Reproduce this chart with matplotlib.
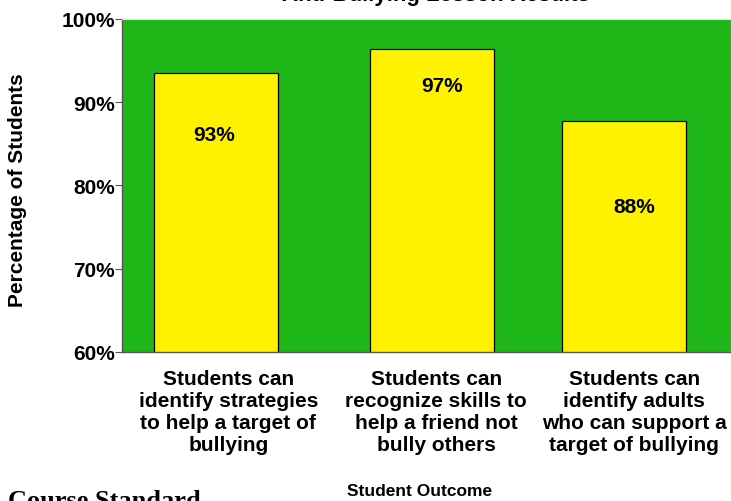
import matplotlib
matplotlib.use("Agg")
import matplotlib.pyplot as plt
import numpy as np

plt.rcParams["font.family"] = ["Liberation Sans", "DejaVu Sans"]
plt.rcParams["font.weight"] = "bold"

## Chart data
outcomes = [
    "Students can\nidentify strategies\nto help a target of\nbullying",
    "Students can\nrecognize skills to\nhelp a friend not\nbully others",
    "Students can\nidentify adults\nwho can support a\ntarget of bullying",
]
percent = [93.5, 96.4, 87.7]
percent_labels = ["93%", "97%", "88%"]
y_ticks = [60, 70, 80, 90, 100]
y_tick_labels = ["60%", "70%", "80%", "90%", "100%"]

## Layout (bar centres were nudged by hand in the original slide)
bar_x = np.array([0.0, 1.06, 2.0])
label_x = np.array([0.06, 1.08, 2.05])
value_text_x = np.array([-0.01, 1.11, 2.05])
value_text_drop = np.array([7.4, 4.4, 10.2])

green = "#1FB718"
yellow = "#FFF200"

fig = plt.figure(figsize=(7.31, 5.02), dpi=100)
ax = fig.add_axes([122 / 731, 149 / 502, 609 / 731, 333 / 502])
ax.set_facecolor(green)

ax.bar(bar_x, percent, width=0.608, bottom=0, color=yellow, edgecolor="black", linewidth=0.9, zorder=2)

for x, v, d, t in zip(value_text_x, percent, value_text_drop, percent_labels):
    ax.text(x, v - d, t, ha="center", va="center", fontsize=15, fontweight="bold", zorder=3)

ax.set_ylim(60, 100)
ax.set_xlim(-0.461, 2.525)
ax.set_yticks(y_ticks)
ax.set_yticklabels(y_tick_labels, fontsize=15, fontweight="bold")
ax.tick_params(axis="y", direction="out", length=5, width=0.8, color="#555555", pad=0)
ax.set_xticks(label_x)
ax.set_xticklabels(outcomes, fontsize=15, fontweight="bold", linespacing=1.2)
ax.tick_params(axis="x", length=0, pad=12)

for side in ["left", "bottom"]:
    ax.spines[side].set_color("#555555")
    ax.spines[side].set_linewidth(1.0)
ax.spines["top"].set_color("#dddddd")
ax.spines["right"].set_visible(False)

fig.text(18 / 731, 1 - 190 / 502, "Percentage of Students", rotation=90, ha="center", va="center",
         fontsize=15, fontweight="bold")
fig.text(420 / 731, 1 - 484 / 502, "Student Outcome", ha="center", va="top", fontsize=12.5, fontweight="bold")
fig.text(436 / 731, 1 - 1 / 502, "Anti-Bullying Lesson Results", ha="center", va="baseline",
         fontsize=16, fontweight="bold")
fig.text(8 / 731, -6 / 502, "Course Standard", ha="left", va="baseline", fontsize=19, fontweight="bold",
         family="Liberation Serif")

fig.savefig("out.png", dpi=100)
